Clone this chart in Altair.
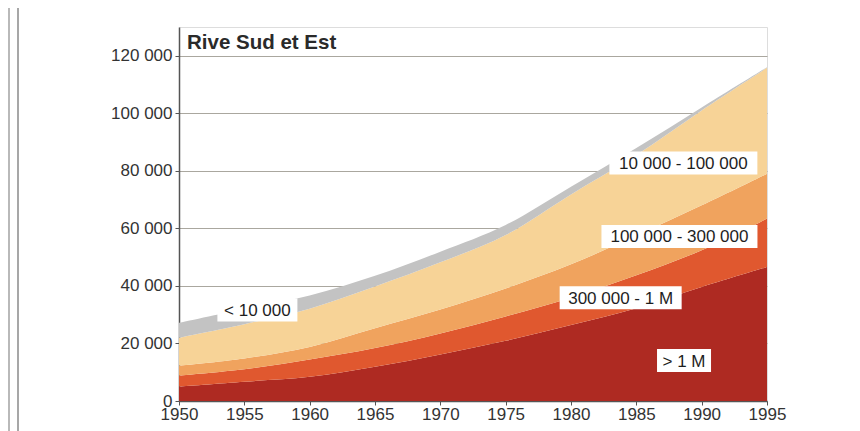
import altair as alt
import pandas as pd

# ---- data ----
years = [1950, 1955, 1960, 1965, 1970, 1975, 1980, 1985, 1990, 1995]
over_1m = [5000, 6700, 8400, 11900, 16200, 20900, 26400, 32200, 39600, 46600]
c300k_1m = [3800, 4300, 6000, 6500, 7300, 8500, 9500, 11500, 12800, 16800]
c100k_300k = [3500, 3800, 4400, 6900, 8300, 9700, 11600, 13800, 15600, 15600]
c10k_100k = [9700, 11900, 13300, 14500, 16400, 18600, 24300, 28000, 33000, 36800]
under_10k = [5200, 5300, 4600, 3700, 3700, 3500, 2700, 2400, 1000, 200]

categories = ["> 1 M", "300 000 - 1 M", "100 000 - 300 000", "10 000 - 100 000", "< 10 000"]
series = [over_1m, c300k_1m, c100k_300k, c10k_100k, under_10k]
colors = ["#ae2a22", "#e0582f", "#f0a35e", "#f7d397", "#c3c3c3"]

label_text = ["< 10 000", "10 000 - 100 000", "100 000 - 300 000", "300 000 - 1 M", "> 1 M"]
label_year = [1956.0, 1988.6, 1988.3, 1983.8, 1988.65]
label_value = [31600, 82700, 57200, 35900, 14050]

title_text = "Rive Sud et Est"
y_ticks = list(range(0, 130001, 10000))
x_ticks = list(range(1950, 1996, 5))

rows = []
for order, (cat, vals) in enumerate(zip(categories, series)):
    for yr, v in zip(years, vals):
        rows.append({"year": yr, "value": v, "category": cat, "order": order})
df = pd.DataFrame(rows)

FONT = "Liberation Sans"
W, H = 588, 374

x_scale = alt.Scale(domain=[1950, 1995], nice=False, zero=False)
y_scale = alt.Scale(domain=[0, 130000], nice=False)

areas = alt.Chart(df).mark_area(interpolate="catmull-rom").encode(
    x=alt.X("year:Q", scale=x_scale,
            axis=alt.Axis(values=x_ticks, format="d", title=None, grid=False,
                          labelFontSize=17, labelColor="#333333", labelFont=FONT,
                          tickSize=4, tickColor="#555555", domainColor="#555555",
                          domainWidth=1.5, labelPadding=1, labelFlush=False)),
    y=alt.Y("value:Q", stack="zero", scale=y_scale,
            axis=alt.Axis(values=y_ticks, title=None, grid=True,
                          gridColor="#aaa79f", gridWidth=1,
                          labelExpr="datum.value % 20000 == 0 && datum.value <= 120000 ? replace(format(datum.value, ',d'), ',', ' ') : ''",
                          labelFontSize=17, labelColor="#333333", labelFont=FONT,
                          tickSize=4, tickColor="#555555", domainColor="#555555",
                          domainWidth=1.5, labelPadding=3)),
    color=alt.Color("category:N", scale=alt.Scale(domain=categories, range=colors), legend=None),
    order=alt.Order("order:Q", sort="ascending"),
)

layers = [areas]
for txt, yr, val in zip(label_text, label_year, label_value):
    ldf = pd.DataFrame({"year": [yr], "value": [val], "label": [txt]})
    w = round(len(txt) * 8.5 + 12)
    box = alt.Chart(ldf).mark_rect(color="white", width=w, height=23).encode(
        x=alt.X("year:Q", scale=x_scale), y=alt.Y("value:Q", scale=y_scale))
    t = alt.Chart(ldf).mark_text(font=FONT, fontSize=17, color="#1e1e1e",
                                 align="center", baseline="middle", dy=1).encode(
        x=alt.X("year:Q", scale=x_scale), y=alt.Y("value:Q", scale=y_scale), text="label:N")
    layers += [box, t]

title = alt.Chart(pd.DataFrame({"t": [title_text]})).mark_text(
    font=FONT, fontSize=20.5, fontWeight="bold", color="#2a2a2a", align="left", baseline="alphabetic"
).encode(x=alt.value(8), y=alt.value(22), text="t:N")
layers.append(title)

# frame lines of the surrounding figure (left edge)
frame = alt.Chart(pd.DataFrame({"k": [0]})).mark_rule(color="#8a8a8a", strokeWidth=1.5).encode(
    x=alt.value(-161), y=alt.value(-19), y2=alt.value(404))
frame2 = alt.Chart(pd.DataFrame({"k": [0]})).mark_rule(color="#8a8a8a", strokeWidth=1.2).encode(
    x=alt.value(-170), y=alt.value(-19), y2=alt.value(404))
layers += [frame, frame2]

chart = alt.layer(*layers).properties(
    width=W, height=H,
    autosize=alt.AutoSizeParams(type="none"),
    padding={"left": 171, "top": 19, "right": 85, "bottom": 30},
).configure_view(fill="#e7e3d9", stroke=None).configure(background="white")

chart.save("out.html", embed_options={"renderer": "svg", "actions": False})
